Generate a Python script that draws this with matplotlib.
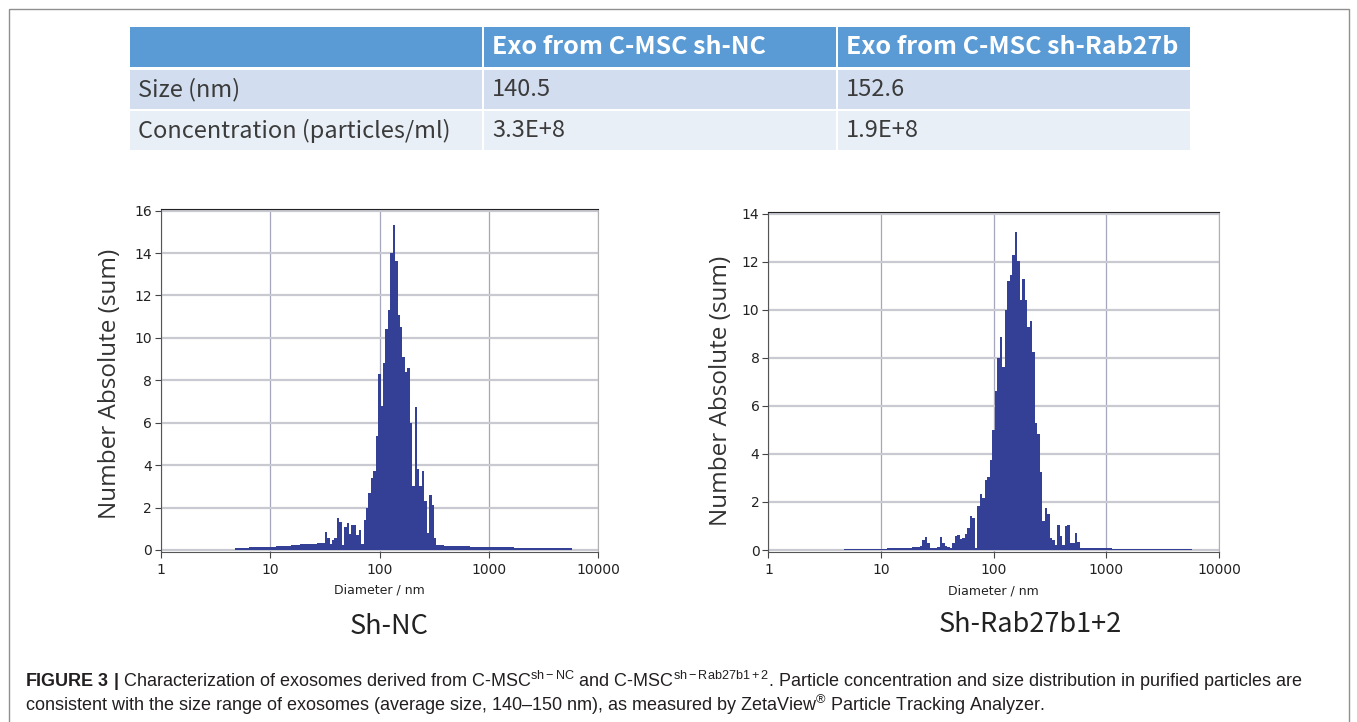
import numpy as np
import matplotlib.pyplot as plt
from matplotlib.patches import Rectangle
from matplotlib.ticker import FixedLocator, NullLocator

# ---- data -------------------------------------------------------------------
table_header = ['', 'Exo from C-MSC sh-NC', 'Exo from C-MSC sh-Rab27b']
table_rows = [['Size (nm)', '140.5', '152.6'],
              ['Concentration (particles/ml)', '3.3E+8', '1.9E+8']]

# histogram bins: log-spaced, 45 per decade, first edge at 10**0.675 (~4.7 nm)
log_start = 0.675
bins_per_decade = 45

counts_nc = [
    0.10, 0.10, 0.10, 0.11, 0.11, 0.11, 0.12, 0.12, 0.12, 0.13,
    0.13, 0.14, 0.14, 0.15, 0.15, 0.16, 0.16, 0.17, 0.18, 0.18,
    0.19, 0.20, 0.21, 0.22, 0.23, 0.24, 0.25, 0.26, 0.27, 0.28,
    0.29, 0.30, 0.30, 0.30, 0.31, 0.31, 0.32, 0.83, 0.55, 0.30,
    0.45, 0.57, 1.50, 1.30, 0.25, 1.10, 1.25, 0.75, 1.20, 1.20,
    0.70, 0.95, 0.30, 1.40, 2.00, 2.70, 3.40, 3.70, 5.35, 8.30,
    6.80, 8.80, 10.4, 11.3, 14.0, 15.3, 13.6, 11.1, 10.5, 9.10,
    8.40, 8.60, 6.00, 3.00, 6.75, 3.80, 3.00, 3.70, 2.30, 0.80,
    2.60, 2.10, 0.55, 0.25, 0.22, 0.22, 0.21, 0.21, 0.20, 0.20,
    0.19, 0.19, 0.18, 0.18, 0.17, 0.17, 0.17, 0.16, 0.16, 0.16,
    0.15, 0.15, 0.15, 0.14, 0.14, 0.14, 0.13, 0.13, 0.13, 0.13,
    0.12, 0.12, 0.12, 0.12, 0.12, 0.11, 0.11, 0.11, 0.11, 0.11,
    0.11, 0.10, 0.10, 0.10, 0.10, 0.10, 0.10, 0.10, 0.10, 0.10,
    0.10, 0.10, 0.10, 0.10, 0.10, 0.10, 0.10, 0.10, 0.10,
]

counts_rab = [
    0.05, 0.05, 0.05, 0.05, 0.05, 0.05, 0.05, 0.05, 0.05, 0.05,
    0.05, 0.05, 0.05, 0.06, 0.06, 0.06, 0.06, 0.07, 0.07, 0.07,
    0.08, 0.08, 0.08, 0.09, 0.09, 0.10, 0.10, 0.11, 0.12, 0.14,
    0.15, 0.40, 0.53, 0.28, 0.10, 0.10, 0.10, 0.12, 0.53, 0.30,
    0.15, 0.12, 0.10, 0.30, 0.60, 0.62, 0.45, 0.50, 0.65, 0.90,
    1.40, 1.35, 0.10, 1.85, 2.35, 2.15, 2.90, 3.05, 3.75, 5.00,
    6.60, 8.00, 8.85, 7.60, 10.0, 11.2, 11.45, 12.3, 13.25, 12.05,
    10.4, 11.3, 10.4, 9.30, 9.55, 8.25, 5.30, 4.85, 3.25, 1.20,
    1.75, 1.50, 0.50, 0.42, 0.20, 1.05, 0.60, 0.20, 1.00, 1.05,
    0.28, 0.30, 0.70, 0.35, 0.10, 0.09, 0.09, 0.08, 0.08, 0.08,
    0.08, 0.07, 0.07, 0.07, 0.07, 0.07, 0.07, 0.06, 0.06, 0.06,
    0.06, 0.06, 0.06, 0.06, 0.06, 0.06, 0.06, 0.06, 0.06, 0.06,
    0.05, 0.05, 0.05, 0.05, 0.05, 0.05, 0.05, 0.05, 0.05, 0.05,
    0.05, 0.05, 0.05, 0.05, 0.05, 0.05, 0.05, 0.05, 0.05,
]

panel_titles = ['Sh-NC', 'Sh-Rab27b1+2']
x_ticks = [1, 10, 100, 1000, 10000]
y_max = [16, 14]

caption_1 = (r'$\mathbf{FIGURE\ 3\ |}$ Characterization of exosomes derived from '
             r'C-MSC$^{\mathrm{sh-NC}}$ and C-MSC$^{\mathrm{sh-Rab27b1+2}}$. '
             r'Particle concentration and size distribution in purified particles are')
caption_2 = (r'consistent with the size range of exosomes (average size, 140–150 nm), '
             r'as measured by ZetaView$^{\circledR}$ Particle Tracking Analyzer.')

# ---- figure -----------------------------------------------------------------
plt.rcParams['mathtext.fontset'] = 'custom'
plt.rcParams['mathtext.rm'] = 'Liberation Sans'
plt.rcParams['mathtext.bf'] = 'Liberation Sans:bold'
plt.rcParams['mathtext.it'] = 'Liberation Sans:italic'

W, H = 1357, 722
fig = plt.figure(figsize=(W / 100, H / 100), dpi=100)

# background axes in pixel coordinates for the table, frame and texts
bg = fig.add_axes([0, 0, 1, 1])
bg.set_xlim(0, W)
bg.set_ylim(H, 0)
bg.axis('off')

# frame round the whole figure
bg.add_patch(Rectangle((8.5, 8.5), 1340, 800, fill=False, edgecolor='#8f8f8f', lw=1, clip_on=False))

# table
col_x = [130, 484, 838]
col_w = 352
row_y = [27, 70, 111]
row_h = [40, 39, 39]
fills = ['#5b9bd5', '#d2deef', '#e9eff7']
cjk = ['Noto Sans CJK SC', 'DejaVu Sans']
for r in range(3):
    for c in range(3):
        bg.add_patch(Rectangle((col_x[c], row_y[r]), col_w, row_h[r], facecolor=fills[r], lw=0))
        if r == 0:
            txt, col, wt, fs = table_header[c], 'white', 'bold', 18
        else:
            txt, col, wt, fs = table_rows[r - 1][c], '#3b3b3b', 'normal', 17
        bg.text(col_x[c] + 8, row_y[r] + row_h[r] / 2, txt, color=col, fontsize=fs,
                fontweight=wt, family=cjk, va='center', ha='left')

# histogram panels
bar_color = '#343f96'
positions = [[0.1186, 0.2359, 0.3223, 0.4742], [0.5663, 0.2355, 0.3320, 0.4705]]
label_xy = [(-0.088, 0.49), (-0.079, 0.474)]
title_xy = [(389, 627), (1030, 624)]
for k, counts in enumerate([counts_nc, counts_rab]):
    ax = fig.add_axes(positions[k])
    edges = 10 ** (log_start + np.arange(len(counts) + 1) / bins_per_decade)
    ax.stairs(counts, edges, fill=True, color=bar_color, lw=0)
    ax.set_xscale('log')
    ax.set_xlim(1, 10000)
    top = y_max[k]
    ax.set_ylim(-0.08, top + 0.06)
    ax.xaxis.set_major_locator(FixedLocator(x_ticks))
    ax.xaxis.set_minor_locator(NullLocator())
    ax.set_xticklabels([str(t) for t in x_ticks])
    ax.set_yticks(np.arange(0, top + 1, 2))
    ax.set_axisbelow(True)
    ax.xaxis.grid(True, color='#a6a6bd', lw=0.9)
    ax.yaxis.grid(True, color='#c9c9d1', lw=1.6)
    ax.tick_params(axis='both', direction='out', length=4, width=0.8, color='#444444',
                   labelsize=10, labelcolor='#222222', pad=2.5)
    ax.tick_params(axis='x', pad=4)
    for side in ['left', 'bottom']:
        ax.spines[side].set_color('#555555')
    ax.spines['top'].set_color('#222222')
    ax.spines['right'].set_color('#b0b0b0')
    ax.set_xlabel('Diameter / nm', fontsize=9, color='#222222', labelpad=5)
    ax.set_ylabel('Number Absolute (sum)', fontsize=17.5, family='Open Sans', color='#333333')
    ax.yaxis.set_label_coords(*label_xy[k])
    bg.text(title_xy[k][0], title_xy[k][1], panel_titles[k], fontsize=19.5, family=cjk,
            color='#222222', ha='center', va='center')

# caption
bg.text(25, 681, caption_1, fontsize=12.95, family='Liberation Sans', color='#231f20', va='center')
bg.text(25, 705, caption_2, fontsize=12.95, family='Liberation Sans', color='#231f20', va='center')

fig.savefig('out.png', dpi=100)
